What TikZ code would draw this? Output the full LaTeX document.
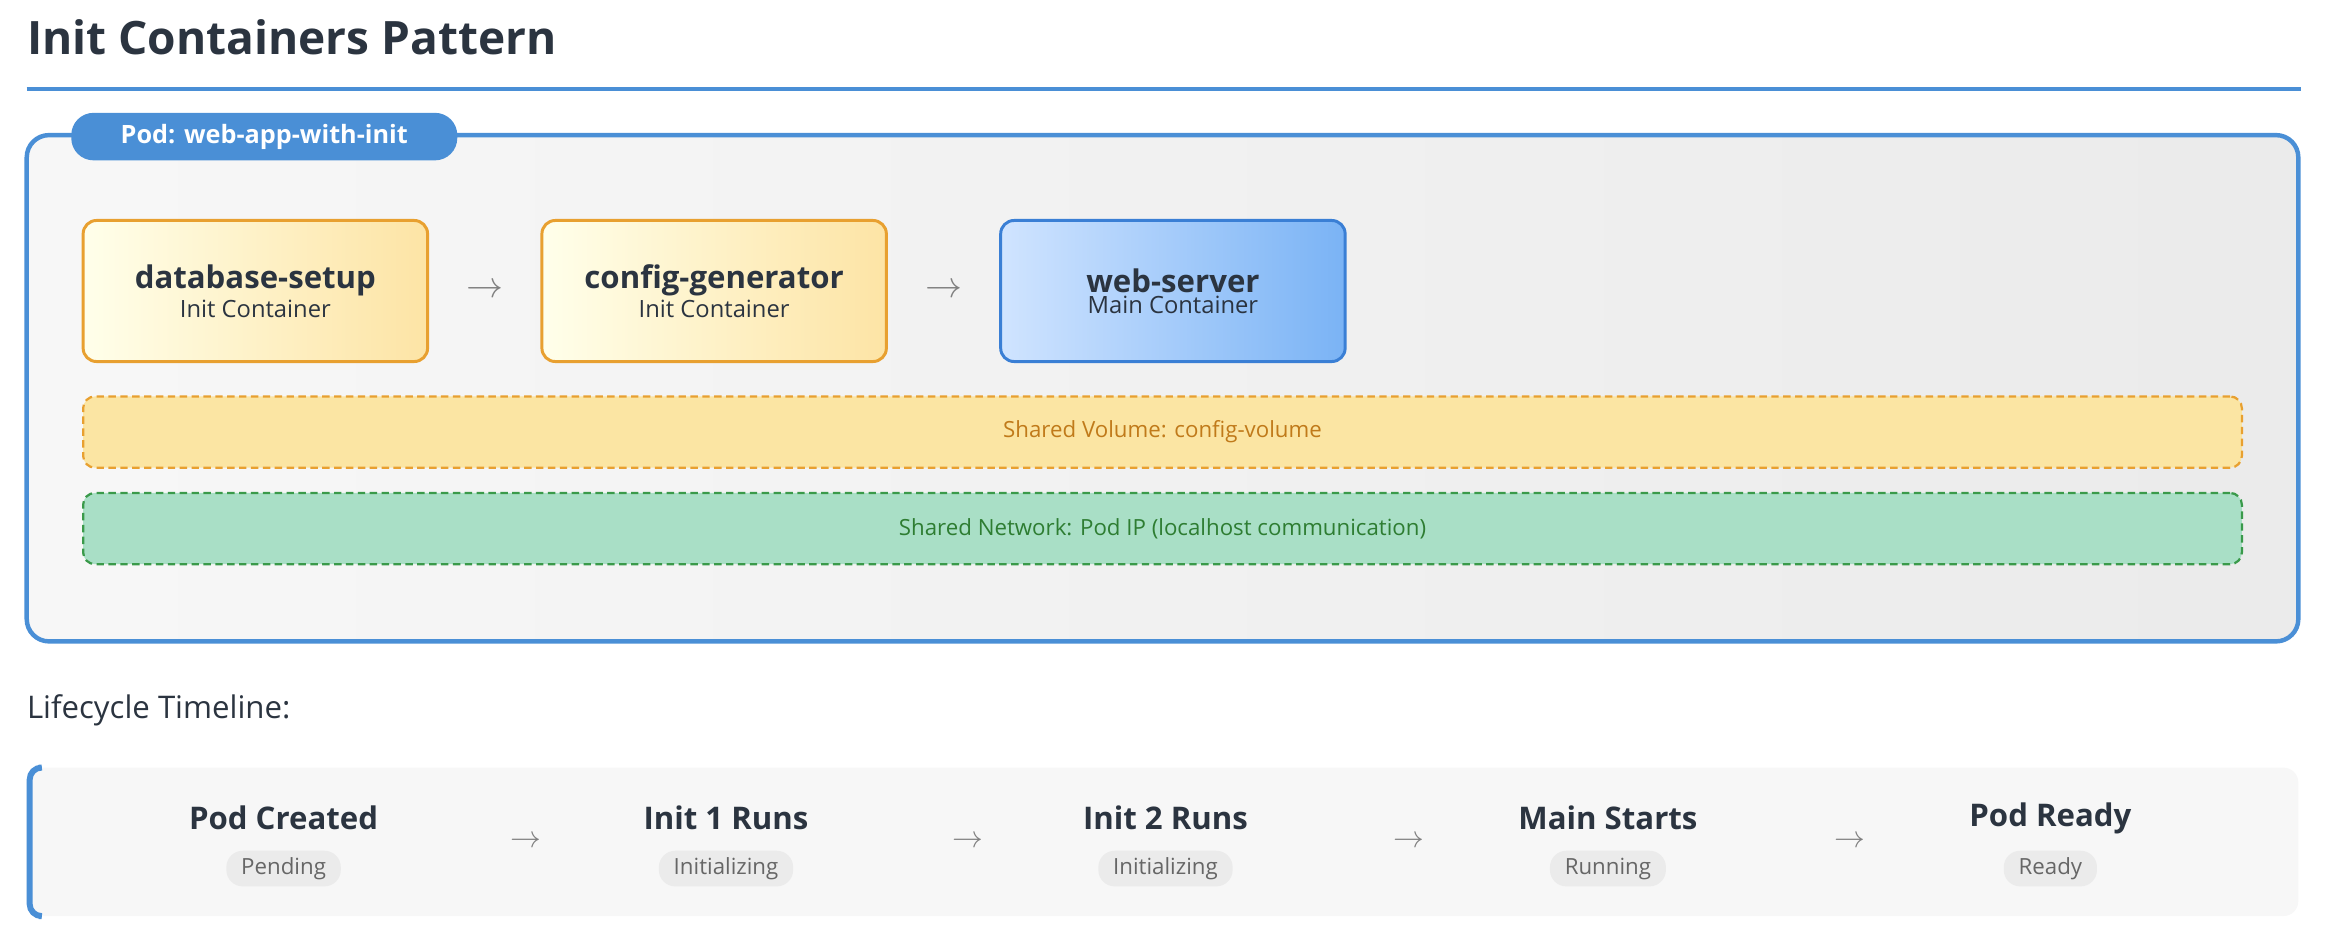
\documentclass[tikz,border=0pt]{standalone}
\usepackage{fontspec}
\setmainfont{Open Sans}
\usetikzlibrary{positioning,calc}
\definecolor{podblue}{HTML}{4A8FD6}
\definecolor{inkdark}{HTML}{2B3440}
\definecolor{initedge}{HTML}{E8A030}
\definecolor{mainedge}{HTML}{3A7FD5}
\definecolor{voltext}{HTML}{C07A1A}
\definecolor{netedge}{HTML}{3A9A4A}
\definecolor{nettext}{HTML}{2E7D32}
\tikzset{
  box/.style={draw, line width=2pt, rounded corners=9pt, minimum width=232pt, minimum height=95pt, align=center, text=inkdark},
  initbox/.style={box, draw=initedge, left color=yellow!8!white, right color={rgb,255:red,253;green,228;blue,165}},
  mainbox/.style={box, draw=mainedge, left color={rgb,255:red,208;green,228;blue,255}, right color={rgb,255:red,122;green,179;blue,245}},
  flow/.style={text=gray, font=\fontsize{24}{24}\selectfont\bfseries},
  band/.style={draw, dashed, line width=1.5pt, dash pattern=on 5pt off 3pt, rounded corners=8pt, minimum width=1454pt, minimum height=48pt, font=\fontsize{15}{15}\selectfont},
  stage/.style={text=inkdark, font=\fontsize{21}{21}\selectfont\bfseries},
  phase/.style={fill=black!8, text=black!60, rounded corners=11pt, inner xsep=10pt, minimum height=24pt, font=\fontsize{15}{15}\selectfont},
  tarrow/.style={text=gray, font=\fontsize{22}{22}\selectfont}
}
\begin{document}
\begin{tikzpicture}[x=1pt,y=-1pt]
\useasboundingbox (0,0) rectangle (1568,632);
% title
\node[anchor=base west, inner sep=0, text=inkdark, font=\fontsize{31}{31}\selectfont\bfseries] (title) at (18,37) {Init Containers Pattern};
\draw[podblue, line width=3pt] (18,60) -- (1550,60);
% pod
\draw[podblue, line width=3pt, rounded corners=15pt, left color=black!3, right color=black!8] (18,91) rectangle (1548,432);
\node[fill=podblue, rounded corners=15pt, minimum width=260pt, minimum height=32pt, text=white, font=\fontsize{17}{17}\selectfont\bfseries] (podlabel) at (178,92) {Pod: web-app-with-init};
% containers
\node[initbox] (dbsetup) at (172,196) {{\fontsize{21}{25}\selectfont\bfseries database-setup}\\[2pt]{\fontsize{16}{18}\selectfont Init Container}};
\node[initbox, right=75pt of dbsetup] (cfggen) {{\fontsize{21}{25}\selectfont\bfseries config-generator}\\[2pt]{\fontsize{16}{18}\selectfont Init Container}};
\node[mainbox, right=75pt of cfggen] (websrv) {{\fontsize{21}{25}\selectfont\bfseries web-server}\\[2pt]{\fontsize{16}{18}\selectfont Main Container}};
\node[flow] (a1) at ($(dbsetup.east)!0.5!(cfggen.west)$) {$\rightarrow$};
\node[flow] (a2) at ($(cfggen.east)!0.5!(websrv.west)$) {$\rightarrow$};
% shared resources
\node[band, draw=initedge, fill={rgb,255:red,251;green,229;blue,163}, text=voltext] (volume) at (783,291) {Shared Volume: config-volume};
\node[band, draw=netedge, fill={rgb,255:red,169;green,223;blue,198}, text=nettext] (network) at (783,356) {Shared Network: Pod IP (localhost communication)};
% timeline
\node[anchor=base west, inner sep=0, text=inkdark, font=\fontsize{21}{21}\selectfont] (lifecycle) at (18,484) {Lifecycle Timeline:};
\fill[black!3, rounded corners=10pt] (18,517) rectangle (1548,617);
\draw[podblue, line width=4pt, rounded corners=8pt] (26,517) -- (20,517) -- (20,617) -- (26,617);
\foreach \name/\x/\title/\state in {s1/191/Pod Created/Pending, s2/489/Init 1 Runs/Initializing, s3/785/Init 2 Runs/Initializing, s4/1083/Main Starts/Running, s5/1381/Pod Ready/Ready}{
  \node[stage] (\name) at (\x,551) {\title};
  \node[phase] (\name p) at (\x,585) {\state};
}
\foreach \x in {354,652,949,1246}
  \node[tarrow] at (\x,567) {$\rightarrow$};
\end{tikzpicture}
\end{document}
